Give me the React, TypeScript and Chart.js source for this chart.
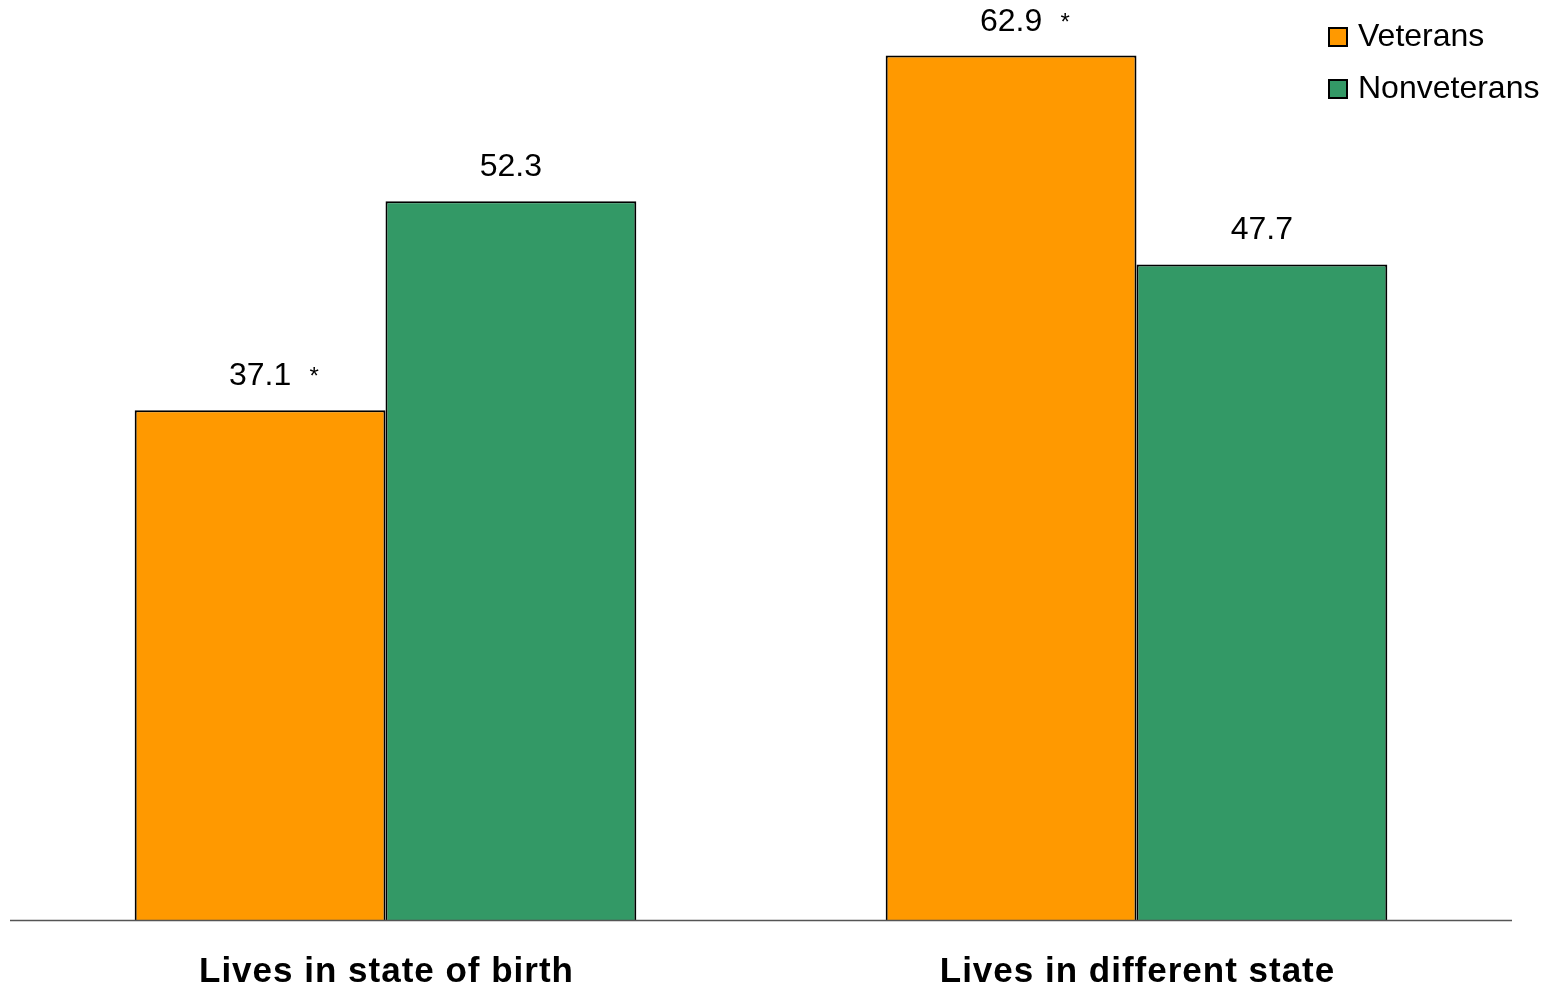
import React, { useEffect, useRef } from "react";
import { Chart, registerables } from "chart.js";

Chart.register(...registerables);

const categories = ["Lives in state of birth", "Lives in different state"];
const veterans = [37.1, 62.9];
const nonveterans = [52.3, 47.7];
const veteranStars = [true, true];
const nonveteranStars = [false, false];
const seriesNames = ["Veterans", "Nonveterans"];
const seriesColors = ["#FF9900", "#339966"];

const FONT = "Arial, 'Liberation Sans', sans-serif";

const overlay = {
  id: "overlay",
  afterDraw(chart: any) {
    const ctx = chart.ctx;
    const area = chart.chartArea;
    const xs = chart.scales.x;
    ctx.save();
    // baseline
    ctx.strokeStyle = "#555";
    ctx.lineWidth = 1.5;
    ctx.beginPath();
    ctx.moveTo(area.left, area.bottom + 0.5);
    ctx.lineTo(area.right, area.bottom + 0.5);
    ctx.stroke();

    // category labels
    ctx.fillStyle = "#000";
    ctx.font = `bold 35px ${FONT}`;
    ctx.textAlign = "center";
    ctx.textBaseline = "middle";
    try {
      (ctx as any).letterSpacing = "1px";
    } catch (e) {}
    categories.forEach((c, i) => {
      ctx.fillText(c, xs.getPixelForValue(i) + 1, area.bottom + 52);
    });
    try {
      (ctx as any).letterSpacing = "0px";
    } catch (e) {}

    // value labels
    const stars = [veteranStars, nonveteranStars];
    chart.data.datasets.forEach((ds: any, di: number) => {
      const meta = chart.getDatasetMeta(di);
      meta.data.forEach((bar: any, i: number) => {
        const v = ds.data[i];
        ctx.font = `32px ${FONT}`;
        ctx.textAlign = "center";
        ctx.textBaseline = "alphabetic";
        const base = bar.y - 25;
        ctx.fillText(v.toFixed(1), bar.x, base);
        if (stars[di][i]) {
          ctx.font = `24px ${FONT}`;
          ctx.fillText("*", bar.x + 54, base - 1);
        }
      });
    });

    // legend
    const lx = 1329;
    const ly = [37, 89];
    seriesNames.forEach((n, i) => {
      ctx.fillStyle = seriesColors[i];
      ctx.fillRect(lx, ly[i] - 9, 18, 18);
      ctx.strokeStyle = "#000";
      ctx.lineWidth = 2;
      ctx.strokeRect(lx, ly[i] - 9, 18, 18);
      ctx.fillStyle = "#000";
      ctx.font = `32px ${FONT}`;
      ctx.textAlign = "left";
      ctx.textBaseline = "middle";
      ctx.fillText(n, lx + 29, ly[i]);
    });
    ctx.restore();
  },
};

export default function App() {
  const ref = useRef<HTMLCanvasElement | null>(null);
  useEffect(() => {
    if (!ref.current) return;
    const chart = new Chart(ref.current, {
      type: "bar",
      data: {
        labels: categories,
        datasets: [
          {
            label: seriesNames[0],
            data: veterans,
            backgroundColor: seriesColors[0],
            borderColor: "#000",
            borderWidth: 2,
            borderSkipped: "bottom",
            categoryPercentage: 0.668,
            barPercentage: 1,
          },
          {
            label: seriesNames[1],
            data: nonveterans,
            backgroundColor: seriesColors[1],
            borderColor: "#000",
            borderWidth: 2,
            borderSkipped: "bottom",
            categoryPercentage: 0.668,
            barPercentage: 1,
          },
        ],
      },
      options: {
        animation: false,
        responsive: false,
        maintainAspectRatio: false,
        layout: { padding: { left: 10, right: 36, top: 13, bottom: 68 } },
        plugins: { legend: { display: false }, tooltip: { enabled: false } },
        scales: {
          x: { display: false },
          y: { display: false, min: 0, max: 66 },
        },
      },
      plugins: [overlay],
    });
    return () => chart.destroy();
  }, []);
  return (
    <div style={{ position: "fixed", left: 0, top: 0, width: 1548, height: 988, background: "#fff" }}>
      <canvas ref={ref} width={1548} height={988} style={{ width: 1548, height: 988 }} />
    </div>
  );
}
